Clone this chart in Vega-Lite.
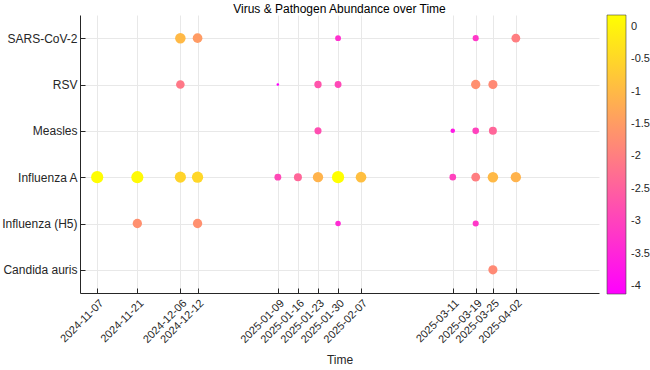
{
  "$schema": "https://vega.github.io/schema/vega-lite/v6.json",
  "width": 519,
  "height": 278,
  "autosize": "none",
  "padding": {"left": 80, "top": 15, "right": 51, "bottom": 77},
  "background": "white",
  "title": {"text": "Virus & Pathogen Abundance over Time", "fontSize": 12, "fontWeight": "normal", "font": "Liberation Sans", "color": "#000000", "offset": -1, "anchor": "middle"},
  "config": {
    "font": "Liberation Sans",
    "view": {"stroke": null},
    "axis": {"labelFont": "Liberation Sans", "titleFont": "Liberation Sans", "labelColor": "#262626", "titleColor": "#262626", "domainColor": "#262626", "tickColor": "#262626", "gridColor": "#e8e8e8", "labelFontSize": 11}
  },
  "data": {"values": [
    {"pathogen": "SARS-CoV-2", "date": "2024-12-06", "value": -1.0},
    {"pathogen": "SARS-CoV-2", "date": "2024-12-12", "value": -1.5},
    {"pathogen": "SARS-CoV-2", "date": "2025-01-30", "value": -3.3},
    {"pathogen": "SARS-CoV-2", "date": "2025-03-19", "value": -3.2},
    {"pathogen": "SARS-CoV-2", "date": "2025-04-02", "value": -2.0},
    {"pathogen": "RSV", "date": "2024-12-06", "value": -2.1},
    {"pathogen": "RSV", "date": "2025-01-09", "value": -4.1},
    {"pathogen": "RSV", "date": "2025-01-23", "value": -2.7},
    {"pathogen": "RSV", "date": "2025-01-30", "value": -2.9},
    {"pathogen": "RSV", "date": "2025-03-19", "value": -1.7},
    {"pathogen": "RSV", "date": "2025-03-25", "value": -1.8},
    {"pathogen": "Measles", "date": "2025-01-23", "value": -2.8},
    {"pathogen": "Measles", "date": "2025-03-11", "value": -3.7},
    {"pathogen": "Measles", "date": "2025-03-19", "value": -3.0},
    {"pathogen": "Measles", "date": "2025-03-25", "value": -2.4},
    {"pathogen": "Influenza A", "date": "2024-11-07", "value": 0.15},
    {"pathogen": "Influenza A", "date": "2024-11-21", "value": 0.1},
    {"pathogen": "Influenza A", "date": "2024-12-06", "value": -0.55},
    {"pathogen": "Influenza A", "date": "2024-12-12", "value": -0.5},
    {"pathogen": "Influenza A", "date": "2025-01-09", "value": -2.9},
    {"pathogen": "Influenza A", "date": "2025-01-16", "value": -2.4},
    {"pathogen": "Influenza A", "date": "2025-01-23", "value": -1.1},
    {"pathogen": "Influenza A", "date": "2025-01-30", "value": 0.18},
    {"pathogen": "Influenza A", "date": "2025-02-07", "value": -0.9},
    {"pathogen": "Influenza A", "date": "2025-03-11", "value": -3.0},
    {"pathogen": "Influenza A", "date": "2025-03-19", "value": -2.0},
    {"pathogen": "Influenza A", "date": "2025-03-25", "value": -1.0},
    {"pathogen": "Influenza A", "date": "2025-04-02", "value": -1.1},
    {"pathogen": "Influenza (H5)", "date": "2024-11-21", "value": -1.7},
    {"pathogen": "Influenza (H5)", "date": "2024-12-12", "value": -1.7},
    {"pathogen": "Influenza (H5)", "date": "2025-01-30", "value": -3.4},
    {"pathogen": "Influenza (H5)", "date": "2025-03-19", "value": -3.2},
    {"pathogen": "Candida auris", "date": "2025-03-25", "value": -1.8}
  ]},
  "mark": {"type": "circle", "opacity": 1, "strokeWidth": 0},
  "encoding": {
    "x": {
      "field": "date", "type": "temporal",
      "scale": {"type": "utc", "domain": [{"year": 2024, "month": 11, "date": 1, "utc": true}, {"year": 2025, "month": 5, "date": 1, "utc": true}], "nice": false},
      "axis": {
        "title": "Time", "titleFontSize": 12, "titleFontWeight": "normal", "titlePadding": 10,
        "values": [
          {"year": 2024, "month": 11, "date": 7, "utc": true},
          {"year": 2024, "month": 11, "date": 21, "utc": true},
          {"year": 2024, "month": 12, "date": 6, "utc": true},
          {"year": 2024, "month": 12, "date": 12, "utc": true},
          {"year": 2025, "month": 1, "date": 9, "utc": true},
          {"year": 2025, "month": 1, "date": 16, "utc": true},
          {"year": 2025, "month": 1, "date": 23, "utc": true},
          {"year": 2025, "month": 1, "date": 30, "utc": true},
          {"year": 2025, "month": 2, "date": 7, "utc": true},
          {"year": 2025, "month": 3, "date": 11, "utc": true},
          {"year": 2025, "month": 3, "date": 19, "utc": true},
          {"year": 2025, "month": 3, "date": 25, "utc": true},
          {"year": 2025, "month": 4, "date": 2, "utc": true}
        ],
        "format": "%Y-%m-%d", "labelAngle": -45, "labelAlign": "right", "labelBaseline": "top",
        "tickSize": -5, "labelPadding": 9, "grid": true, "labelOverlap": false, "labelFlush": false
      }
    },
    "y": {
      "field": "pathogen", "type": "nominal",
      "sort": ["SARS-CoV-2", "RSV", "Measles", "Influenza A", "Influenza (H5)", "Candida auris"],
      "scale": {"type": "point", "padding": 0.5},
      "axis": {"title": null, "grid": true, "tickSize": -5, "labelPadding": 8, "labelFontSize": 12}
    },
    "color": {
      "field": "value", "type": "quantitative",
      "scale": {"domain": [-4.12, 0.18], "range": ["#ff00ff", "#ffff00"], "interpolate": "rgb"},
      "legend": {
        "type": "gradient", "direction": "vertical",
        "title": null, "orient": "right", "offset": 8, "padding": 0,
        "gradientLength": 279, "gradientThickness": 19,
        "gradientStrokeColor": "#444444", "gradientStrokeWidth": 0.6,
        "values": [0, -0.5, -1, -1.5, -2, -2.5, -3, -3.5, -4],
        "labelExpr": "datum.value == 0 ? '0' : '-' + format(abs(datum.value), '~g')",
        "labelFontSize": 11, "labelColor": "#262626", "labelFont": "Liberation Sans", "labelOffset": 5
      }
    },
    "size": {
      "field": "value", "type": "quantitative",
      "scale": {"domain": [-4.2, 0.2], "range": [4, 150], "zero": false},
      "legend": null
    }
  }
}
